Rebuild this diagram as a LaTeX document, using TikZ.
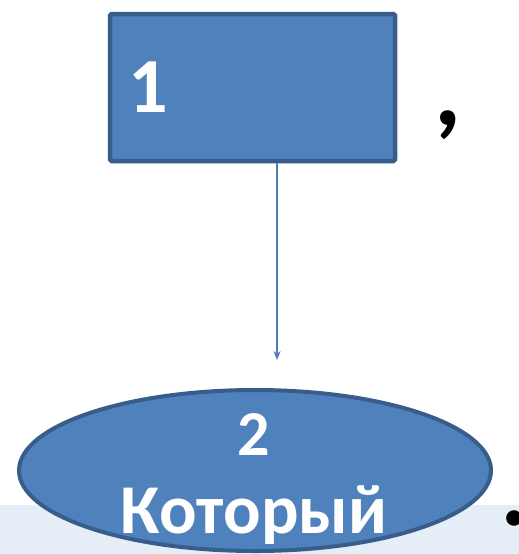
\documentclass[tikz,border=0pt]{standalone}
\usepackage{fontspec}
\setmainfont{Carlito}
\usepackage{tikz}
\usetikzlibrary{shapes.geometric,arrows.meta}
\definecolor{boxblue}{HTML}{4F81BD}
\definecolor{boxedge}{HTML}{385D8A}
\definecolor{stripblue}{HTML}{E5EEF6}
\definecolor{arrowblue}{HTML}{4A7EBB}

\begin{document}
\begin{tikzpicture}[
    x=1pt, y=-1pt,
    mybox/.style={rectangle, draw=boxedge, fill=boxblue, line width=4.5pt, rounded corners=1.5pt, minimum width=285pt, minimum height=147pt, text width=248pt, inner xsep=18.5pt, align=left, text=white, font=\bfseries\fontsize{78}{80}\selectfont},
    myoval/.style={ellipse, draw=boxedge, fill=boxblue, line width=4pt, minimum width=472pt, minimum height=161pt, inner sep=0pt},
    mytext/.style={text=white, font=\bfseries\fontsize{70}{78}\selectfont, align=center, inner sep=0pt},
    punct/.style={text=black, font=\bfseries\fontsize{105}{110}\selectfont, inner sep=0pt}
]
\useasboundingbox (0,0) rectangle (519,554);
\fill[stripblue] (0,505) rectangle (519,554);

\node[mybox] (box) at (252.5,87.5) {1};
\node[punct] (comma) at (448,125) {,};
\node[myoval] (oval) at (255,470.5) {};
\node[mytext] (word) at (254,479) {{\fontsize{64}{78}\selectfont 2}\\Который};
\node[punct] (stop) at (515,518) {.};
\coordinate (tip) at (277,360);

\draw[-{Stealth[length=9pt,width=7pt]}, line width=1.5pt, arrowblue] (box.south -| tip) -- (tip);
\end{tikzpicture}
\end{document}
